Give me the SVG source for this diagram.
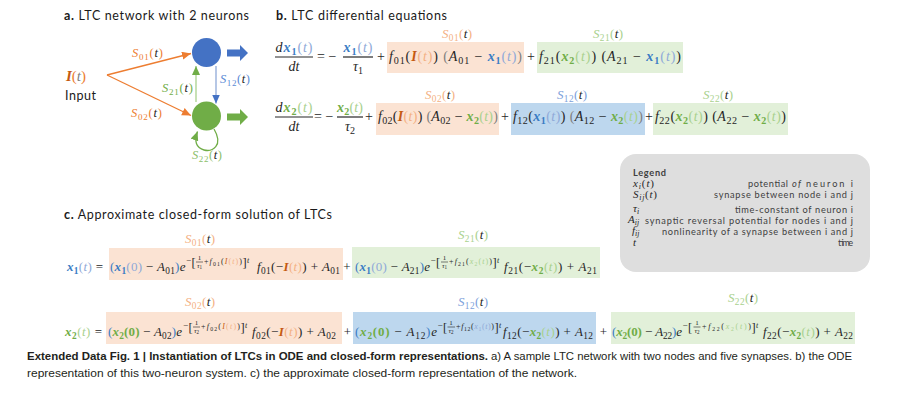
<svg xmlns="http://www.w3.org/2000/svg" width="923" height="413" viewBox="0 0 923 413">
<style>
.m{font-family:"Liberation Serif","Times New Roman",serif;fill:#262626}
.t{font-family:Lato,"Liberation Sans",sans-serif;fill:#1a1a1a;font-size:12.5px}
.lg{font-family:Lato,"Liberation Sans",sans-serif;fill:#404040;font-size:9.2px}
.cap{font-family:"Liberation Sans",Arial,sans-serif;fill:#231f20;font-size:11px}
.i{font-style:italic}
.b{font-weight:bold}
.s{font-size:0.72em}
.B{fill:#3a7cc4}.Bl{fill:#8fa9d8}.G{fill:#70ad47}.Gl{fill:#a9d18e}
.Od{fill:#c55a11}.Ol{fill:#f4b183}.O{fill:#ed7d31}.gy{fill:#7f7f7f}.k{fill:#262626}
.bo{fill:#fbe3d3}.bb{fill:#bdd7ee}.bg{fill:#e2f0d9}
.bar{stroke:#262626;stroke-width:1.2}
.bar2{stroke:#262626;stroke-width:0.6}
</style>
<defs>
<marker id="ao" markerUnits="userSpaceOnUse" markerWidth="10" markerHeight="10" refX="9" refY="4" orient="auto"><path d="M0 0 L9 4 L0 8 z" fill="#ed7d31"/></marker>
<marker id="ag" markerUnits="userSpaceOnUse" markerWidth="10" markerHeight="10" refX="9" refY="4" orient="auto"><path d="M0 0 L9 4 L0 8 z" fill="#70ad47"/></marker>
<marker id="ab" markerUnits="userSpaceOnUse" markerWidth="10" markerHeight="10" refX="9" refY="4" orient="auto"><path d="M0 0 L9 4 L0 8 z" fill="#4472c4"/></marker>
</defs>
<rect width="923" height="413" fill="#ffffff"/>

<!-- Panel a -->
<text class="t" x="64" y="20" textLength="185"><tspan font-weight="bold">a.</tspan> LTC network with 2 neurons</text>
<g id="node-input">
<text class="m" x="66" y="81" font-size="15"><tspan class="i b Od">I</tspan><tspan class="O">(</tspan><tspan class="i gy">t</tspan><tspan class="O">)</tspan></text>
<text class="t" x="65" y="100" textLength="31">Input</text>
</g>
<g id="node-x1"><circle cx="206.5" cy="52.5" r="14.5" fill="#4472c4"/></g>
<g id="node-x2"><circle cx="206.5" cy="116" r="14.5" fill="#70ad47"/></g>
<g id="out-x1"><polygon points="227,49.5 240,49.5 240,45 248,53 240,61 240,56.5 227,56.5" fill="#4472c4"/></g>
<g id="out-x2"><polygon points="227,113.5 240,113.5 240,109 248,117 240,125 240,120.5 227,120.5" fill="#70ad47"/></g>
<g id="connectors" fill="none" stroke-width="1.3">
<path d="M107 75 L191 53.5" stroke="#ed7d31" marker-end="url(#ao)"/>
<path d="M107 75 L191 115.5" stroke="#ed7d31" marker-end="url(#ao)"/>
<path d="M196 102 L196 66" stroke="#a9d18e" marker-end="url(#ag)"/>
<path d="M216 66 L216 103.5" stroke="#8fa9d8" marker-end="url(#ab)"/>
<path d="M214 129 C224 146 212 152 204 150 C196 148 194 141 197.5 131.5" stroke="#70ad47" marker-end="url(#ag)"/>
</g>
<g id="labels-a" class="m" font-size="12.5">
<text x="132" y="57" textLength="31"><tspan class="i O">S</tspan><tspan class="s O" dy="2.5">01</tspan><tspan class="O" dy="-2.5">(</tspan><tspan class="i">t</tspan><tspan class="O">)</tspan></text>
<text x="131" y="117" textLength="31"><tspan class="i O">S</tspan><tspan class="s O" dy="2.5">02</tspan><tspan class="O" dy="-2.5">(</tspan><tspan class="i">t</tspan><tspan class="O">)</tspan></text>
<text x="162" y="92" textLength="31"><tspan class="i G">S</tspan><tspan class="s G" dy="2.5">21</tspan><tspan class="G" dy="-2.5">(</tspan><tspan class="i">t</tspan><tspan class="G">)</tspan></text>
<text x="220" y="83" textLength="30"><tspan class="i" fill="#5b8bd6">S</tspan><tspan class="s" fill="#5b8bd6" dy="2.5">12</tspan><tspan fill="#5b8bd6" dy="-2.5">(</tspan><tspan class="i">t</tspan><tspan fill="#5b8bd6">)</tspan></text>
<text x="192" y="159" textLength="30"><tspan class="i" fill="#8cc06a">S</tspan><tspan class="s" fill="#8cc06a" dy="2.5">22</tspan><tspan fill="#8cc06a" dy="-2.5">(</tspan><tspan class="i">t</tspan><tspan fill="#8cc06a">)</tspan></text>
</g>

<!-- Panel b -->
<text class="t" x="276" y="20" textLength="171"><tspan font-weight="bold">b.</tspan> LTC differential equations</text>
<g id="eq-b1" class="m" font-size="14">
<rect class="bo" x="387" y="42" width="137" height="31"/>
<rect class="bg" x="537" y="42" width="146" height="31"/>
<text x="294" y="52" text-anchor="middle" textLength="37"><tspan class="i">d</tspan><tspan class="i b B">x</tspan><tspan class="s b B" dy="3">1</tspan><tspan class="Bl" dy="-3">(</tspan><tspan class="i Bl">t</tspan><tspan class="Bl">)</tspan></text>
<line class="bar" x1="275" y1="57" x2="313" y2="57"/>
<text x="294" y="71" text-anchor="middle" class="i">dt</text>
<text x="317" y="61">= −</text>
<text x="358" y="52" text-anchor="middle" textLength="29"><tspan class="i b B">x</tspan><tspan class="s b B" dy="3">1</tspan><tspan class="Bl" dy="-3">(</tspan><tspan class="i Bl">t</tspan><tspan class="Bl">)</tspan></text>
<line class="bar" x1="343" y1="57" x2="373" y2="57"/>
<text x="358" y="71" text-anchor="middle"><tspan class="i">τ</tspan><tspan class="s" dy="3">1</tspan></text>
<text x="381" y="61" text-anchor="middle">+</text>
<text x="389" y="61" textLength="133"><tspan class="i">f</tspan><tspan class="s" dy="3">01</tspan><tspan dy="-3">(</tspan><tspan class="i b Od">I</tspan><tspan class="Ol">(</tspan><tspan class="i Ol">t</tspan><tspan class="Ol">)</tspan><tspan>) </tspan><tspan class="gy">(</tspan><tspan class="i">A</tspan><tspan class="s" dy="3">01</tspan><tspan dy="-3"> − </tspan><tspan class="i b B">x</tspan><tspan class="s b B" dy="3">1</tspan><tspan class="Bl" dy="-3">(</tspan><tspan class="i Bl">t</tspan><tspan class="Bl">)</tspan><tspan class="gy">)</tspan></text>
<text x="531" y="61" text-anchor="middle">+</text>
<text x="539" y="61" textLength="142"><tspan class="i">f</tspan><tspan class="s" dy="3">21</tspan><tspan dy="-3">(</tspan><tspan class="i b G">x</tspan><tspan class="s b G" dy="3">2</tspan><tspan class="Gl" dy="-3">(</tspan><tspan class="i Gl">t</tspan><tspan class="Gl">)</tspan><tspan>) (</tspan><tspan class="i">A</tspan><tspan class="s" dy="3">21</tspan><tspan dy="-3"> − </tspan><tspan class="i b B">x</tspan><tspan class="s b B" dy="3">1</tspan><tspan class="Bl" dy="-3">(</tspan><tspan class="i Bl">t</tspan><tspan class="Bl">)</tspan><tspan>)</tspan></text>
<text x="457" y="38" text-anchor="middle" font-size="13" textLength="30"><tspan class="i Ol">S</tspan><tspan class="s Ol" dy="2.5">01</tspan><tspan class="Ol" dy="-2.5">(</tspan><tspan class="i">t</tspan><tspan class="Ol">)</tspan></text>
<text x="608" y="38" text-anchor="middle" font-size="13" textLength="30"><tspan class="i Gl">S</tspan><tspan class="s Gl" dy="2.5">21</tspan><tspan class="Gl" dy="-2.5">(</tspan><tspan class="i">t</tspan><tspan class="Gl">)</tspan></text>
</g>
<g id="eq-b2" class="m" font-size="14">
<rect class="bo" x="376" y="103" width="123" height="32"/>
<rect class="bb" x="511" y="103" width="134" height="32"/>
<rect class="bg" x="653" y="103" width="135" height="32"/>
<text x="294" y="112" text-anchor="middle" textLength="37"><tspan class="i">d</tspan><tspan class="i b G">x</tspan><tspan class="s b G" dy="3">2</tspan><tspan class="Gl" dy="-3">(</tspan><tspan class="i Gl">t</tspan><tspan class="Gl">)</tspan></text>
<line class="bar" x1="275" y1="117" x2="313" y2="117"/>
<text x="294" y="131" text-anchor="middle" class="i">dt</text>
<text x="314" y="121">= −</text>
<text x="350" y="112" text-anchor="middle" textLength="26"><tspan class="i b G">x</tspan><tspan class="s b G" dy="3">2</tspan><tspan class="Gl" dy="-3">(</tspan><tspan class="i Gl">t</tspan><tspan class="Gl">)</tspan></text>
<line class="bar" x1="337" y1="117" x2="363" y2="117"/>
<text x="350" y="131" text-anchor="middle"><tspan class="i">τ</tspan><tspan class="s" dy="3">2</tspan></text>
<text x="369" y="121" text-anchor="middle">+</text>
<text x="378" y="121" textLength="120"><tspan class="i">f</tspan><tspan class="s" dy="3">02</tspan><tspan dy="-3">(</tspan><tspan class="i b Od">I</tspan><tspan class="Ol">(</tspan><tspan class="i Ol">t</tspan><tspan class="Ol">)</tspan><tspan>) </tspan><tspan class="gy">(</tspan><tspan class="i">A</tspan><tspan class="s" dy="3">02</tspan><tspan dy="-3"> − </tspan><tspan class="i b G">x</tspan><tspan class="s b G" dy="3">2</tspan><tspan class="Gl" dy="-3">(</tspan><tspan class="i Gl">t</tspan><tspan class="Gl">)</tspan><tspan class="gy">)</tspan></text>
<text x="505" y="121" text-anchor="middle">+</text>
<text x="513" y="121" textLength="130"><tspan class="i">f</tspan><tspan class="s" dy="3">12</tspan><tspan dy="-3">(</tspan><tspan class="i b B">x</tspan><tspan class="s b B" dy="3">1</tspan><tspan class="Bl" dy="-3">(</tspan><tspan class="i Bl">t</tspan><tspan class="Bl">)</tspan><tspan>) </tspan><tspan class="gy">(</tspan><tspan class="i">A</tspan><tspan class="s" dy="3">12</tspan><tspan dy="-3"> − </tspan><tspan class="i b G">x</tspan><tspan class="s b G" dy="3">2</tspan><tspan class="Gl" dy="-3">(</tspan><tspan class="i Gl">t</tspan><tspan class="Gl">)</tspan><tspan class="gy">)</tspan></text>
<text x="649" y="121" text-anchor="middle">+</text>
<text x="655" y="121" textLength="131"><tspan class="i">f</tspan><tspan class="s" dy="3">22</tspan><tspan dy="-3">(</tspan><tspan class="i b G">x</tspan><tspan class="s b G" dy="3">2</tspan><tspan class="Gl" dy="-3">(</tspan><tspan class="i Gl">t</tspan><tspan class="Gl">)</tspan><tspan>) (</tspan><tspan class="i">A</tspan><tspan class="s" dy="3">22</tspan><tspan dy="-3"> − </tspan><tspan class="i b G">x</tspan><tspan class="s b G" dy="3">2</tspan><tspan class="Gl" dy="-3">(</tspan><tspan class="i Gl">t</tspan><tspan class="Gl">)</tspan><tspan>)</tspan></text>
<text x="440" y="99" text-anchor="middle" font-size="13" textLength="30"><tspan class="i Ol">S</tspan><tspan class="s Ol" dy="2.5">02</tspan><tspan class="Ol" dy="-2.5">(</tspan><tspan class="i">t</tspan><tspan class="Ol">)</tspan></text>
<text x="572" y="99" text-anchor="middle" font-size="13" textLength="30"><tspan class="i" fill="#7c9fdb">S</tspan><tspan class="s" fill="#7c9fdb" dy="2.5">12</tspan><tspan fill="#7c9fdb" dy="-2.5">(</tspan><tspan class="i">t</tspan><tspan fill="#7c9fdb">)</tspan></text>
<text x="718" y="99" text-anchor="middle" font-size="13" textLength="30"><tspan class="i Gl">S</tspan><tspan class="s Gl" dy="2.5">22</tspan><tspan class="Gl" dy="-2.5">(</tspan><tspan class="i">t</tspan><tspan class="Gl">)</tspan></text>
</g>

<!-- Legend -->
<g id="legend">
<rect x="620" y="154" width="250" height="118" rx="16" fill="#dedede"/>
<text class="lg" x="633" y="176" font-weight="bold" font-size="10" fill="#1a1a1a" textLength="33">Legend</text>
<g class="m" font-size="11">
<text x="633" y="187" textLength="21"><tspan class="i">x</tspan><tspan class="s i" dy="1.5">i</tspan><tspan dy="-1.5">(</tspan><tspan class="i">t</tspan><tspan>)</tspan></text>
<text x="633" y="198" textLength="24"><tspan class="i">S</tspan><tspan class="s i" dy="1.5">ij</tspan><tspan dy="-1.5">(</tspan><tspan class="i">t</tspan><tspan>)</tspan></text>
<text x="633" y="212"><tspan class="i">τ</tspan><tspan class="s i" dy="1.5">i</tspan></text>
<text x="628" y="223"><tspan class="i">A</tspan><tspan class="s i" dy="1.5">ij</tspan></text>
<text x="632" y="234"><tspan class="i">f</tspan><tspan class="s i" dy="1.5">ij</tspan></text>
<text x="633" y="245.5" class="i">t</text>
</g>
<g class="lg">
<text x="748" y="187" textLength="40">potential</text>
<text x="792" y="187" textLength="9" font-style="italic">of</text>
<text x="806" y="187" textLength="47">neuron i</text>
</g>
<g class="lg" text-anchor="end">
<text x="853" y="198" textLength="139">synapse between node i and j</text>
<text x="853" y="213" textLength="118">time-constant of neuron i</text>
<text x="853" y="224" textLength="208">synaptic reversal potential for nodes i and j</text>
<text x="853" y="235" textLength="191">nonlinearity of a synapse between i and j</text>
<text x="853" y="246" textLength="15">time</text>
</g>
</g>

<!-- Panel c -->
<text class="t" x="64" y="219" textLength="268"><tspan font-weight="bold">c.</tspan> Approximate closed-form solution of LTCs</text>
<g id="eq-c1" class="m" font-size="13">
<rect class="bo" x="109" y="248" width="234" height="32"/>
<rect class="bg" x="352" y="247" width="248" height="31"/>
<text x="67" y="271" textLength="36"><tspan class="i b B">x</tspan><tspan class="s b B" dy="3">1</tspan><tspan class="Bl" dy="-3">(</tspan><tspan class="i Bl">t</tspan><tspan class="Bl">)</tspan><tspan> =</tspan></text>
<text x="200" y="243" text-anchor="middle" font-size="13" textLength="30"><tspan class="i Ol">S</tspan><tspan class="s Ol" dy="2.5">01</tspan><tspan class="Ol" dy="-2.5">(</tspan><tspan class="i">t</tspan><tspan class="Ol">)</tspan></text>
<text x="110" y="271" textLength="75.5"><tspan class="B">(</tspan><tspan class="i b B">x</tspan><tspan class="s b B" dy="3">1</tspan><tspan class="Bl" dy="-3">(0)</tspan><tspan> − </tspan><tspan class="i">A</tspan><tspan class="s" dy="3">01</tspan><tspan class="B" dy="-3">)</tspan><tspan class="i">e</tspan></text>
<text x="186" y="263" font-size="9">−</text>
<text x="191.5" y="266.5" font-size="12.5">[</text>
<text x="199.5" y="260" font-size="7" text-anchor="middle">1</text>
<line class="bar2" x1="196" y1="262" x2="203" y2="262"/>
<text x="199.5" y="268" font-size="7" text-anchor="middle"><tspan class="i">τ</tspan><tspan class="s" dy="1">1</tspan></text>
<text x="204" y="264" font-size="8" textLength="38"><tspan>+</tspan><tspan class="i">f</tspan><tspan class="s" dy="1.5">01</tspan><tspan dy="-1.5">(</tspan><tspan class="i Od">I</tspan><tspan class="Ol">(</tspan><tspan class="i Ol">t</tspan><tspan class="Ol">)</tspan><tspan>)</tspan></text>
<text x="242.5" y="266.5" font-size="12.5">]</text>
<text x="247" y="263" font-size="8" class="i">t</text>
<text x="257" y="271" textLength="83"><tspan class="i">f</tspan><tspan class="s" dy="3">01</tspan><tspan dy="-3">(−</tspan><tspan class="i b Od">I</tspan><tspan class="Ol">(</tspan><tspan class="i Ol">t</tspan><tspan class="Ol">)</tspan><tspan>) + </tspan><tspan class="i">A</tspan><tspan class="s" dy="3">01</tspan></text>
<text x="347" y="271" text-anchor="middle">+</text>
<text x="473" y="239" text-anchor="middle" font-size="13" textLength="30"><tspan class="i Gl">S</tspan><tspan class="s Gl" dy="2.5">21</tspan><tspan class="Gl" dy="-2.5">(</tspan><tspan class="i">t</tspan><tspan class="Gl">)</tspan></text>
<text x="355" y="271" textLength="75"><tspan class="B">(</tspan><tspan class="i b B">x</tspan><tspan class="s b B" dy="3">1</tspan><tspan class="Bl" dy="-3">(0)</tspan><tspan> − </tspan><tspan class="i">A</tspan><tspan class="s" dy="3">21</tspan><tspan class="B" dy="-3">)</tspan><tspan class="i">e</tspan></text>
<text x="430.5" y="263" font-size="9">−</text>
<text x="436" y="266.5" font-size="12.5">[</text>
<text x="444.5" y="260" font-size="7" text-anchor="middle">1</text>
<line class="bar2" x1="441" y1="262" x2="448" y2="262"/>
<text x="444.5" y="268" font-size="7" text-anchor="middle"><tspan class="i">τ</tspan><tspan class="s" dy="1">1</tspan></text>
<text x="449" y="264" font-size="8" textLength="43"><tspan>+</tspan><tspan class="i">f</tspan><tspan class="s" dy="1.5">21</tspan><tspan dy="-1.5">(</tspan><tspan class="i Gl">x</tspan><tspan class="s Gl" dy="1.5">2</tspan><tspan class="Gl" dy="-1.5">(</tspan><tspan class="i Gl">t</tspan><tspan class="Gl">)</tspan><tspan>)</tspan></text>
<text x="492.5" y="266.5" font-size="12.5">]</text>
<text x="497" y="263" font-size="8" class="i">t</text>
<text x="504" y="271" textLength="93"><tspan class="i">f</tspan><tspan class="s" dy="3">21</tspan><tspan dy="-3">(−</tspan><tspan class="i b G">x</tspan><tspan class="s b G" dy="3">2</tspan><tspan class="Gl" dy="-3">(</tspan><tspan class="i Gl">t</tspan><tspan class="Gl">)</tspan><tspan>) + </tspan><tspan class="i">A</tspan><tspan class="s" dy="3">21</tspan></text>
</g>

<g id="eq-c2" class="m" font-size="13">
<rect class="bo" x="106" y="312" width="236" height="32"/>
<rect class="bb" x="353" y="312" width="243" height="32"/>
<rect class="bg" x="611" y="312" width="244" height="32"/>
<text x="65" y="336" textLength="37"><tspan class="i b G">x</tspan><tspan class="s b G" dy="3">2</tspan><tspan class="Gl" dy="-3">(</tspan><tspan class="i Gl">t</tspan><tspan class="Gl">)</tspan><tspan> =</tspan></text>
<text x="200" y="306" text-anchor="middle" font-size="13" textLength="30"><tspan class="i Ol">S</tspan><tspan class="s Ol" dy="2.5">02</tspan><tspan class="Ol" dy="-2.5">(</tspan><tspan class="i">t</tspan><tspan class="Ol">)</tspan></text>
<text x="108" y="336" textLength="74"><tspan class="B">(</tspan><tspan class="i b G">x</tspan><tspan class="s b G" dy="3">2</tspan><tspan class="b G" dy="-3">(0)</tspan><tspan> − </tspan><tspan class="i">A</tspan><tspan class="s" dy="3">02</tspan><tspan class="B" dy="-3">)</tspan><tspan class="i">e</tspan></text>
<text x="183" y="328" font-size="9">−</text>
<text x="188.5" y="331.5" font-size="12.5">[</text>
<text x="196.5" y="325" font-size="7" text-anchor="middle">1</text>
<line class="bar2" x1="193" y1="327" x2="200" y2="327"/>
<text x="196.5" y="333" font-size="7" text-anchor="middle"><tspan class="i">τ</tspan><tspan class="s" dy="1">2</tspan></text>
<text x="201" y="329" font-size="8" textLength="39"><tspan>+</tspan><tspan class="i">f</tspan><tspan class="s" dy="1.5">02</tspan><tspan dy="-1.5">(</tspan><tspan class="i Od">I</tspan><tspan class="Ol">(</tspan><tspan class="i Ol">t</tspan><tspan class="Ol">)</tspan><tspan>)</tspan></text>
<text x="240.5" y="331.5" font-size="12.5">]</text>
<text x="245" y="328" font-size="8" class="i">t</text>
<text x="252" y="336" textLength="84"><tspan class="i">f</tspan><tspan class="s" dy="3">02</tspan><tspan dy="-3">(−</tspan><tspan class="i b Od">I</tspan><tspan class="Ol">(</tspan><tspan class="i Ol">t</tspan><tspan class="Ol">)</tspan><tspan>) + </tspan><tspan class="i">A</tspan><tspan class="s" dy="3">02</tspan></text>
<text x="347.5" y="336" text-anchor="middle">+</text>
<text x="473" y="306" text-anchor="middle" font-size="13" textLength="30"><tspan class="i" fill="#7c9fdb">S</tspan><tspan class="s" fill="#7c9fdb" dy="2.5">12</tspan><tspan fill="#7c9fdb" dy="-2.5">(</tspan><tspan class="i">t</tspan><tspan fill="#7c9fdb">)</tspan></text>
<text x="355" y="336" textLength="82"><tspan class="B">(</tspan><tspan class="i b G">x</tspan><tspan class="s b G" dy="3">2</tspan><tspan class="b G" dy="-3">(0)</tspan><tspan> − </tspan><tspan class="i">A</tspan><tspan class="s" dy="3">12</tspan><tspan class="B" dy="-3">)</tspan><tspan class="i">e</tspan></text>
<text x="437.5" y="328" font-size="9">−</text>
<text x="443" y="331.5" font-size="12.5">[</text>
<text x="451" y="325" font-size="7" text-anchor="middle">1</text>
<line class="bar2" x1="447.5" y1="327" x2="455" y2="327"/>
<text x="451" y="333" font-size="7" text-anchor="middle"><tspan class="i">τ</tspan><tspan class="s" dy="1">2</tspan></text>
<text x="456" y="329" font-size="8" textLength="38"><tspan>+</tspan><tspan class="i">f</tspan><tspan class="s" dy="1.5">12</tspan><tspan dy="-1.5">(</tspan><tspan class="i Bl">x</tspan><tspan class="s Bl" dy="1.5">1</tspan><tspan class="Bl" dy="-1.5">(</tspan><tspan class="i Bl">t</tspan><tspan class="Bl">)</tspan><tspan>)</tspan></text>
<text x="494.5" y="331.5" font-size="12.5">]</text>
<text x="499" y="328" font-size="8" class="i">t</text>
<text x="503" y="336" textLength="90"><tspan class="i">f</tspan><tspan class="s" dy="3">12</tspan><tspan dy="-3">(−</tspan><tspan class="i b G">x</tspan><tspan class="s b G" dy="3">2</tspan><tspan class="Gl" dy="-3">(</tspan><tspan class="i Gl">t</tspan><tspan class="Gl">)</tspan><tspan>) + </tspan><tspan class="i">A</tspan><tspan class="s" dy="3">12</tspan></text>
<text x="603.5" y="336" text-anchor="middle">+</text>
<text x="743" y="302" text-anchor="middle" font-size="13" textLength="30"><tspan class="i Gl">S</tspan><tspan class="s Gl" dy="2.5">22</tspan><tspan class="Gl" dy="-2.5">(</tspan><tspan class="i">t</tspan><tspan class="Gl">)</tspan></text>
<text x="612" y="336" textLength="70"><tspan class="B">(</tspan><tspan class="i b G">x</tspan><tspan class="s b G" dy="3">2</tspan><tspan class="b G" dy="-3">(0)</tspan><tspan> − </tspan><tspan class="i">A</tspan><tspan class="s" dy="3">22</tspan><tspan class="B" dy="-3">)</tspan><tspan class="i">e</tspan></text>
<text x="682.5" y="328" font-size="9">−</text>
<text x="688" y="331.5" font-size="12.5">[</text>
<text x="697" y="325" font-size="7" text-anchor="middle">1</text>
<line class="bar2" x1="693.5" y1="327" x2="700.5" y2="327"/>
<text x="697" y="333" font-size="7" text-anchor="middle"><tspan class="i">τ</tspan><tspan class="s" dy="1">2</tspan></text>
<text x="702" y="329" font-size="8" textLength="49"><tspan>+</tspan><tspan class="i">f</tspan><tspan class="s" dy="1.5">22</tspan><tspan dy="-1.5">(</tspan><tspan class="i Gl">x</tspan><tspan class="s Gl" dy="1.5">2</tspan><tspan class="Gl" dy="-1.5">(</tspan><tspan class="i Gl">t</tspan><tspan class="Gl">)</tspan><tspan>)</tspan></text>
<text x="751.5" y="331.5" font-size="12.5">]</text>
<text x="756" y="328" font-size="8" class="i">t</text>
<text x="763" y="336" textLength="90"><tspan class="i">f</tspan><tspan class="s" dy="3">22</tspan><tspan dy="-3">(−</tspan><tspan class="i b G">x</tspan><tspan class="s b G" dy="3">2</tspan><tspan class="Gl" dy="-3">(</tspan><tspan class="i Gl">t</tspan><tspan class="Gl">)</tspan><tspan>) + </tspan><tspan class="i">A</tspan><tspan class="s" dy="3">22</tspan></text>
</g>

<!-- Caption -->
<g id="caption">
<text class="cap" x="27" y="360" font-weight="bold" textLength="461" lengthAdjust="spacingAndGlyphs">Extended Data Fig. 1 | Instantiation of LTCs in ODE and closed-form representations.</text>
<text class="cap" x="491" y="360" textLength="361" lengthAdjust="spacingAndGlyphs">a) A sample LTC network with two nodes and five synapses. b) the ODE</text>
<text class="cap" x="27" y="377" textLength="550" lengthAdjust="spacingAndGlyphs">representation of this two-neuron system. c) the approximate closed-form representation of the network.</text>
</g>
</svg>
